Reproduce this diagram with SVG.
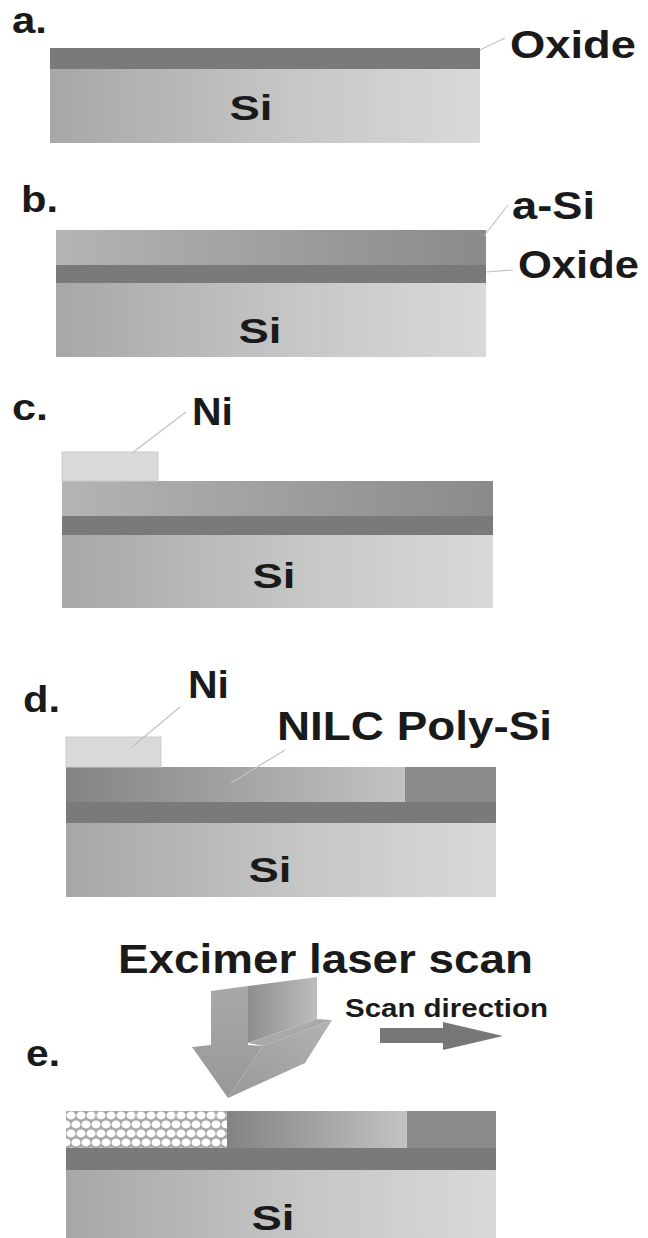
<svg xmlns="http://www.w3.org/2000/svg" width="648" height="1238" viewBox="0 0 648 1238">
  <defs>
    <linearGradient id="siGrad" x1="0" y1="0" x2="1" y2="0">
      <stop offset="0" stop-color="#a7a7a7"/>
      <stop offset="0.55" stop-color="#c6c6c6"/>
      <stop offset="1" stop-color="#d9d9d9"/>
    </linearGradient>
    <linearGradient id="asiGrad" x1="0" y1="0" x2="1" y2="0">
      <stop offset="0" stop-color="#b4b4b4"/>
      <stop offset="1" stop-color="#8a8a8a"/>
    </linearGradient>
    <linearGradient id="nilcGrad" x1="0" y1="0" x2="1" y2="0">
      <stop offset="0" stop-color="#838383"/>
      <stop offset="1" stop-color="#c3c3c3"/>
    </linearGradient>
    <linearGradient id="plateGrad" x1="0" y1="0" x2="1" y2="0">
      <stop offset="0" stop-color="#8e8e8e"/>
      <stop offset="1" stop-color="#bdbdbd"/>
    </linearGradient>
    <linearGradient id="frontGrad" x1="0" y1="0" x2="0" y2="1">
      <stop offset="0" stop-color="#a8a8a8"/>
      <stop offset="1" stop-color="#989898"/>
    </linearGradient>
    <linearGradient id="headGrad" x1="0" y1="1" x2="1" y2="0">
      <stop offset="0" stop-color="#999999"/>
      <stop offset="1" stop-color="#b2b2b2"/>
    </linearGradient>
    <pattern id="honeycomb" x="66" y="1111" width="10" height="18" patternUnits="userSpaceOnUse">
      <rect width="10" height="18" fill="#a9a9a9"/>
      <ellipse cx="5" cy="4.5" rx="4.5" ry="3.9" fill="#ffffff"/>
      <ellipse cx="0" cy="13.5" rx="4.5" ry="3.9" fill="#ffffff"/>
      <ellipse cx="10" cy="13.5" rx="4.5" ry="3.9" fill="#ffffff"/>
    </pattern>
  </defs>
  <style>
    .lbl { font-family: "Liberation Sans", Arial, sans-serif; font-weight: bold; fill: #1a1a1a; }
    .panel { font-size: 36px; }
    .name { font-size: 38px; }
    .si { font-size: 35px; text-anchor: middle; }
    .si-layer { fill: url(#siGrad); }
    .oxide { fill: #7a7a7a; }
    .asi { fill: url(#asiGrad); }
    .asi-flat { fill: #8b8b8b; }
    .nilc { fill: url(#nilcGrad); }
    .ni { fill: #d9d9d9; stroke: #cccccc; stroke-width: 1; }
    .leader { stroke: #c2c2c2; stroke-width: 1.2; fill: none; }
  </style>
  <rect width="648" height="1238" fill="#ffffff"/>

  <!-- a. oxide on silicon -->
  <g id="panel-a">
    <rect class="si-layer" x="50" y="69" width="430" height="74"/>
    <rect class="oxide" x="50" y="48" width="430" height="21"/>
    <text class="lbl panel" x="12" y="33" textLength="35" lengthAdjust="spacingAndGlyphs">a.</text>
    <text class="lbl si" x="251" y="120" textLength="43" lengthAdjust="spacingAndGlyphs">Si</text>
    <text class="lbl name" x="510" y="58" textLength="126" lengthAdjust="spacingAndGlyphs">Oxide</text>
  </g>

  <!-- b. amorphous Si deposited -->
  <g id="panel-b">
    <rect class="si-layer" x="56" y="283" width="430" height="74"/>
    <rect class="oxide" x="56" y="265" width="430" height="18"/>
    <rect class="asi" x="56" y="230" width="430" height="35"/>
    <text class="lbl panel" x="21" y="212" textLength="37" lengthAdjust="spacingAndGlyphs">b.</text>
    <text class="lbl si" x="260" y="343" textLength="43" lengthAdjust="spacingAndGlyphs">Si</text>
    <text class="lbl name" x="512" y="219" textLength="83" lengthAdjust="spacingAndGlyphs">a-Si</text>
    <text class="lbl name" x="518" y="278" textLength="121" lengthAdjust="spacingAndGlyphs">Oxide</text>
  </g>

  <!-- c. Ni pad on a-Si -->
  <g id="panel-c">
    <rect class="si-layer" x="62" y="535" width="431" height="73"/>
    <rect class="oxide" x="62" y="516" width="431" height="19"/>
    <rect class="asi" x="62" y="481" width="431" height="35"/>
    <rect class="ni" x="62" y="452" width="96" height="29"/>
    <text class="lbl panel" x="12" y="420" textLength="36" lengthAdjust="spacingAndGlyphs">c.</text>
    <text class="lbl si" x="274" y="588" textLength="43" lengthAdjust="spacingAndGlyphs">Si</text>
    <text class="lbl name" x="192" y="425" textLength="41" lengthAdjust="spacingAndGlyphs">Ni</text>
  </g>

  <!-- d. Ni-induced lateral crystallisation -->
  <g id="panel-d">
    <rect class="si-layer" x="66" y="823" width="430" height="74"/>
    <rect class="oxide" x="66" y="802" width="430" height="21"/>
    <rect class="asi-flat" x="405" y="767" width="91" height="35"/>
    <rect class="nilc" x="66" y="767" width="339" height="35"/>
    <rect class="ni" x="66" y="737" width="95" height="30"/>
    <text class="lbl panel" x="23" y="712" textLength="37" lengthAdjust="spacingAndGlyphs">d.</text>
    <text class="lbl si" x="270" y="882" textLength="43" lengthAdjust="spacingAndGlyphs">Si</text>
    <text class="lbl name" x="188" y="698" textLength="41" lengthAdjust="spacingAndGlyphs">Ni</text>
    <text class="lbl" x="277" y="740" font-size="40" textLength="275" lengthAdjust="spacingAndGlyphs">NILC Poly-Si</text>
  </g>

  <!-- e. excimer laser scan over the NILC film -->
  <g id="panel-e">
    <rect class="si-layer" x="66" y="1170" width="430" height="68"/>
    <rect class="oxide" x="66" y="1148" width="430" height="22"/>
    <rect class="asi-flat" x="407" y="1111" width="89" height="37"/>
    <rect class="nilc" x="227" y="1111" width="180" height="37"/>
    <rect x="66" y="1111" width="161" height="37" fill="url(#honeycomb)"/>
    <text class="lbl panel" x="26" y="1066" textLength="34" lengthAdjust="spacingAndGlyphs">e.</text>
    <text class="lbl si" x="273" y="1230" textLength="43" lengthAdjust="spacingAndGlyphs">Si</text>
    <text class="lbl" x="118" y="973" font-size="40" textLength="415" lengthAdjust="spacingAndGlyphs">Excimer laser scan</text>
    <text class="lbl" x="345" y="1017" font-size="25" textLength="203" lengthAdjust="spacingAndGlyphs">Scan direction</text>
  </g>

  <!-- 3D laser beam arrow -->
  <g id="laser-arrow">
    <polygon points="248,986 317,977 317,1019 248,1043" fill="url(#plateGrad)"/>
    <polygon points="248,1043 317,1019 332,1020 263,1046" fill="#a9a9a9"/>
    <polygon points="263,1046 332,1020 305,1063 228,1098" fill="url(#headGrad)"/>
    <polygon points="211,991 248,986 248,1045 263,1046 228,1098 192,1047 211,1045" fill="url(#frontGrad)"/>
  </g>

  <!-- scan direction arrow -->
  <g id="scan-arrow">
    <polygon points="380,1028 443,1028 443,1022 503,1036 443,1050 443,1043 380,1043" fill="#777777"/>
  </g>

  <g id="connectors">
    <line class="leader" x1="480" y1="50" x2="505" y2="38"/>
    <line class="leader" x1="484" y1="236" x2="508" y2="205"/>
    <line class="leader" x1="486" y1="272" x2="513" y2="270"/>
    <line class="leader" x1="132" y1="453" x2="186" y2="412"/>
    <line class="leader" x1="132" y1="747" x2="180" y2="707"/>
    <line class="leader" x1="231" y1="783" x2="285" y2="750"/>
  </g>
</svg>
